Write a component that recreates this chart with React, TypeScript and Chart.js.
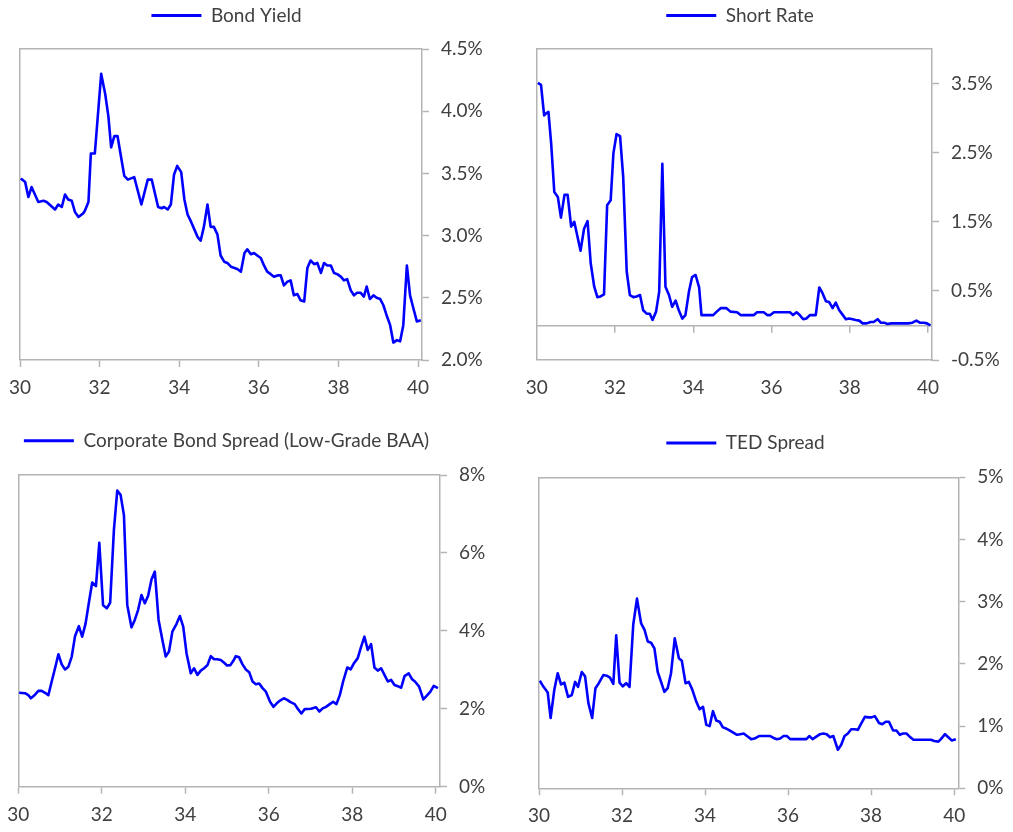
import React, { useEffect, useRef } from 'react';
import { Chart, registerables } from 'chart.js';

Chart.register(...registerables);

const FONT = "Lato, 'Noto Sans', sans-serif";
const TEXT = '#404040';
const AXIS = '#b4b4b4';
const BLUE = '#0000ff';

// ---------- tick labels ----------
const xTicks = [30, 32, 34, 36, 38, 40];
const bondTicks = [2.0, 2.5, 3.0, 3.5, 4.0, 4.5];
const shortTicks = [-0.5, 0.5, 1.5, 2.5, 3.5];
const spreadTicks = [0, 2, 4, 6, 8];
const tedTicks = [0, 1, 2, 3, 4, 5];

// ---------- Bond Yield (%) ----------
const bondYears = [
  30.02, 30.13, 30.21, 30.29, 30.46, 30.59, 30.67, 30.88, 30.96, 31.05, 31.13, 31.21, 31.3, 31.38, 31.47,
  31.59, 31.63, 31.72, 31.78, 31.88, 32.04, 32.14, 32.22, 32.29, 32.37, 32.45, 32.54, 32.62, 32.71, 32.79,
  32.87, 33.05, 33.21, 33.31, 33.47, 33.56, 33.62, 33.71, 33.79, 33.87, 33.95, 34.05, 34.13, 34.21, 34.3,
  34.38, 34.46, 34.54, 34.62, 34.71, 34.79, 34.87, 34.96, 35.04, 35.13, 35.21, 35.3, 35.39, 35.47, 35.55,
  35.64, 35.71, 35.8, 35.88, 35.96, 36.05, 36.13, 36.21, 36.3, 36.38, 36.47, 36.55, 36.63, 36.72, 36.8,
  36.88, 36.97, 37.05, 37.14, 37.22, 37.3, 37.39, 37.47, 37.56, 37.64, 37.72, 37.81, 37.89, 37.97, 38.06,
  38.14, 38.22, 38.31, 38.39, 38.47, 38.56, 38.64, 38.71, 38.79, 38.88, 38.96, 39.05, 39.13, 39.21, 39.3,
  39.38, 39.47, 39.55, 39.63, 39.72, 39.8, 39.88, 39.97, 40.07,
];
const bondYield = [
  3.46, 3.43, 3.31, 3.39, 3.27, 3.28, 3.27, 3.21, 3.25, 3.23, 3.33, 3.29, 3.28, 3.19, 3.15,
  3.18, 3.2, 3.27, 3.66, 3.66, 4.3, 4.14, 3.96, 3.71, 3.8, 3.8, 3.63, 3.48, 3.45, 3.46,
  3.47, 3.25, 3.45, 3.45, 3.23, 3.22, 3.23, 3.21, 3.25, 3.49, 3.56, 3.51, 3.29, 3.17, 3.11,
  3.05, 2.99, 2.96, 3.07, 3.25, 3.07, 3.07, 3.01, 2.84, 2.79, 2.78, 2.75, 2.74, 2.73, 2.71,
  2.86, 2.89, 2.85, 2.86, 2.84, 2.82, 2.76, 2.71, 2.69, 2.67, 2.68, 2.68, 2.6, 2.63, 2.64,
  2.52, 2.53, 2.48, 2.47, 2.74, 2.8, 2.77, 2.78, 2.7, 2.78, 2.76, 2.76, 2.7, 2.69, 2.67,
  2.64, 2.65, 2.56, 2.52, 2.54, 2.54, 2.51, 2.59, 2.49, 2.52, 2.5, 2.49, 2.44, 2.36, 2.28,
  2.14, 2.16, 2.15, 2.28, 2.76, 2.52, 2.42, 2.31, 2.32,
];

// ---------- Short Rate (%) ----------
const shortYears = [
  30.03, 30.11, 30.19, 30.24, 30.3, 30.37, 30.45, 30.54, 30.62, 30.71, 30.79, 30.88, 30.96, 31.12, 31.21,
  31.3, 31.38, 31.47, 31.55, 31.63, 31.72, 31.8, 31.89, 31.96, 32.04, 32.13, 32.21, 32.3, 32.38, 32.47,
  32.55, 32.64, 32.72, 32.81, 32.89, 32.96, 33.05, 33.13, 33.21, 33.29, 33.38, 33.46, 33.55, 33.63, 33.72,
  33.8, 33.89, 33.97, 34.06, 34.15, 34.21, 34.51, 34.6, 34.7, 34.85, 34.95, 35.12, 35.21, 35.55, 35.63,
  35.8, 35.89, 35.97, 36.06, 36.47, 36.55, 36.64, 36.72, 36.81, 36.89, 36.98, 37.13, 37.22, 37.3, 37.39,
  37.47, 37.56, 37.64, 37.73, 37.81, 37.9, 37.98, 38.07, 38.15, 38.24, 38.33, 38.43, 38.53, 38.61, 38.71,
  38.79, 38.88, 38.96, 39.06, 39.49, 39.6, 39.7, 39.79, 39.89, 39.97, 40.06,
];
const shortRate = [
  3.51, 3.48, 3.04, 3.07, 3.09, 2.63, 1.93, 1.86, 1.56, 1.89, 1.89, 1.43, 1.5, 1.08, 1.4,
  1.51, 0.9, 0.56, 0.41, 0.42, 0.45, 1.74, 1.81, 2.49, 2.77, 2.74, 2.15, 0.78, 0.44, 0.41,
  0.42, 0.44, 0.22, 0.17, 0.17, 0.08, 0.2, 0.49, 2.34, 0.56, 0.44, 0.27, 0.36, 0.22, 0.1,
  0.15, 0.49, 0.7, 0.73, 0.55, 0.15, 0.15, 0.2, 0.25, 0.25, 0.2, 0.19, 0.15, 0.15, 0.19,
  0.19, 0.15, 0.15, 0.19, 0.19, 0.15, 0.19, 0.15, 0.09, 0.1, 0.15, 0.15, 0.55, 0.47, 0.35,
  0.34, 0.25, 0.33, 0.22, 0.16, 0.09, 0.1, 0.09, 0.08, 0.07, 0.03, 0.03, 0.05, 0.05, 0.09,
  0.04, 0.04, 0.02, 0.03, 0.03, 0.04, 0.07, 0.04, 0.04, 0.03, 0.0,
];

// ---------- Corporate Bond Spread, Low-Grade BAA (%) ----------
const spreadYears = [
  30.02, 30.16, 30.24, 30.3, 30.38, 30.48, 30.56, 30.64, 30.72, 30.8, 30.88, 30.96, 31.04, 31.12, 31.2,
  31.28, 31.36, 31.45, 31.53, 31.61, 31.69, 31.77, 31.86, 31.94, 32.03, 32.12, 32.2, 32.29, 32.37, 32.45,
  32.53, 32.61, 32.71, 32.79, 32.87, 32.95, 33.03, 33.11, 33.19, 33.27, 33.36, 33.45, 33.53, 33.61, 33.69,
  33.79, 33.87, 33.95, 34.03, 34.13, 34.21, 34.29, 34.37, 34.45, 34.53, 34.61, 34.69, 34.76, 34.85, 34.93,
  35.0, 35.08, 35.15, 35.21, 35.29, 35.37, 35.45, 35.53, 35.61, 35.69, 35.77, 35.85, 35.93, 36.03, 36.11,
  36.19, 36.27, 36.36, 36.44, 36.52, 36.62, 36.7, 36.78, 36.86, 37.01, 37.13, 37.21, 37.29, 37.37, 37.46,
  37.54, 37.62, 37.7, 37.78, 37.88, 37.96, 38.04, 38.13, 38.21, 38.29, 38.37, 38.45, 38.53, 38.61, 38.69,
  38.77, 38.85, 38.93, 39.01, 39.09, 39.17, 39.25, 39.35, 39.43, 39.5, 39.6, 39.7, 39.78, 39.87, 39.95,
  40.05,
];
const corpSpread = [
  2.41, 2.4, 2.35, 2.27, 2.34, 2.46, 2.46, 2.41, 2.35, 2.7, 3.04, 3.4, 3.14, 3.01, 3.08,
  3.34, 3.87, 4.12, 3.85, 4.18, 4.72, 5.24, 5.15, 6.26, 4.66, 4.58, 4.72, 6.59, 7.6, 7.49,
  6.97, 4.66, 4.09, 4.28, 4.54, 4.92, 4.71, 4.9, 5.32, 5.52, 4.28, 3.77, 3.34, 3.47, 3.98,
  4.18, 4.38, 4.11, 3.42, 2.91, 3.04, 2.87, 2.98, 3.04, 3.12, 3.35, 3.27, 3.27, 3.25, 3.18,
  3.11, 3.12, 3.23, 3.35, 3.32, 3.14, 3.01, 2.94, 2.7, 2.63, 2.65, 2.53, 2.44, 2.18, 2.05,
  2.14, 2.21, 2.27, 2.23, 2.17, 2.12, 1.99, 1.88, 1.99, 2.0, 2.04, 1.93, 2.01, 2.05, 2.12,
  2.18, 2.12, 2.35, 2.7, 3.06, 3.01, 3.17, 3.3, 3.59, 3.85, 3.51, 3.66, 3.06, 2.98, 3.04,
  2.87, 2.7, 2.74, 2.61, 2.58, 2.54, 2.84, 2.91, 2.76, 2.7, 2.57, 2.24, 2.33, 2.44, 2.59,
  2.53,
];

// ---------- TED Spread (%) ----------
const tedYears = [
  30.02, 30.1, 30.21, 30.28, 30.37, 30.45, 30.53, 30.61, 30.7, 30.79, 30.87, 30.94, 31.03, 31.11, 31.19,
  31.28, 31.36, 31.44, 31.55, 31.63, 31.71, 31.79, 31.86, 31.94, 32.02, 32.1, 32.18, 32.27, 32.36, 32.46,
  32.54, 32.62, 32.7, 32.78, 32.86, 32.94, 33.02, 33.1, 33.18, 33.27, 33.37, 33.44, 33.53, 33.61, 33.69,
  33.79, 33.87, 33.95, 34.03, 34.11, 34.19, 34.27, 34.35, 34.43, 34.51, 34.59, 34.67, 34.77, 34.85, 34.93,
  35.01, 35.11, 35.19, 35.3, 35.57, 35.65, 35.73, 35.81, 35.89, 35.97, 36.05, 36.44, 36.51, 36.59, 36.68,
  36.77, 36.85, 36.93, 37.01, 37.09, 37.2, 37.28, 37.36, 37.44, 37.52, 37.6, 37.68, 37.77, 37.85, 37.93,
  38.01, 38.09, 38.19, 38.27, 38.35, 38.43, 38.53, 38.61, 38.69, 38.77, 38.85, 38.93, 39.02, 39.44, 39.52,
  39.62, 39.68, 39.78, 39.86, 39.94, 40.04,
];
const tedSpread = [
  1.73, 1.64, 1.54, 1.13, 1.59, 1.85, 1.67, 1.7, 1.47, 1.5, 1.71, 1.63, 1.87, 1.8, 1.37,
  1.13, 1.61, 1.69, 1.82, 1.81, 1.78, 1.68, 2.46, 1.7, 1.64, 1.69, 1.63, 2.63, 3.05, 2.65,
  2.55, 2.36, 2.34, 2.25, 1.87, 1.71, 1.55, 1.61, 1.85, 2.41, 2.09, 2.05, 1.69, 1.71, 1.59,
  1.39, 1.27, 1.31, 1.02, 1.0, 1.24, 1.09, 1.07, 0.98, 0.96, 0.93, 0.9, 0.86, 0.87, 0.88,
  0.84, 0.79, 0.8, 0.84, 0.84, 0.81, 0.79, 0.8, 0.84, 0.84, 0.79, 0.79, 0.84, 0.79, 0.83,
  0.87, 0.88, 0.87, 0.82, 0.84, 0.62, 0.7, 0.84, 0.88, 0.95, 0.95, 0.94, 1.05, 1.15, 1.14,
  1.14, 1.16, 1.05, 1.03, 1.07, 1.07, 0.93, 0.93, 0.86, 0.88, 0.88, 0.83, 0.78, 0.78, 0.76,
  0.75, 0.79, 0.87, 0.82, 0.77, 0.79,
];

// ---------- layout (page pixels) ----------
type Box = { L: number; R: number; T: number; B: number; C: number; mid: number; E: number; Y0: number; H: number };
type Panel = {
  label: string;
  years: number[];
  values: number[];
  yMin: number;
  yMax: number;
  yTicks: number[];
  decimals: number;
  zeroLine: boolean;
  box: Box;
};

const panels: Panel[] = [
  {
    label: 'Bond Yield', years: bondYears, values: bondYield, yMin: 2, yMax: 4.5, yTicks: bondTicks, decimals: 1, zeroLine: false,
    box: { L: 20, R: 422, T: 49, B: 360, C: 226.5, mid: 15.5, E: 495, Y0: 0, H: 410 },
  },
  {
    label: 'Short Rate', years: shortYears, values: shortRate, yMin: -0.5, yMax: 4.0, yTicks: shortTicks, decimals: 1, zeroLine: true,
    box: { L: 536.7, R: 932, T: 49, B: 360, C: 740, mid: 15.5, E: 1011, Y0: 0, H: 410 },
  },
  {
    label: 'Corporate Bond Spread (Low-Grade BAA)', years: spreadYears, values: corpSpread, yMin: 0, yMax: 8, yTicks: spreadTicks, decimals: 0, zeroLine: false,
    box: { L: 18.3, R: 440, T: 475, B: 786.7, C: 226.3, mid: 440.8, E: 495, Y0: 418, H: 414 },
  },
  {
    label: 'TED Spread', years: tedYears, values: tedSpread, yMin: 0, yMax: 5, yTicks: tedTicks, decimals: 0, zeroLine: false,
    box: { L: 539, R: 958.3, T: 477.3, B: 788.3, C: 745.5, mid: 443, E: 1011, Y0: 418, H: 414 },
  },
];

const FS = 19;
const LEGEND_PAD = 4;
const TICK_LEN = 7;
const LINE_W = 1.5;

const framePlugin = {
  id: 'frame',
  beforeDatasetsDraw(chart: any, _args: any, opts: any) {
    const { ctx, chartArea, scales } = chart;
    const { left, top, right, bottom } = chartArea;
    const al = (v: number) => Math.round(v - LINE_W / 2) + LINE_W / 2;
    ctx.save();
    ctx.strokeStyle = AXIS;
    ctx.lineWidth = LINE_W;
    ctx.beginPath();
    ctx.moveTo(al(left), bottom);
    ctx.lineTo(al(left), al(top));
    ctx.lineTo(right, al(top));
    if (opts && opts.zeroLine) {
      const y0 = al(scales.y.getPixelForValue(0));
      ctx.moveTo(left, y0);
      ctx.lineTo(right, y0);
      for (const t of scales.x.ticks) {
        const x = al(scales.x.getPixelForValue(t.value));
        ctx.moveTo(x, y0);
        ctx.lineTo(x, y0 + TICK_LEN);
      }
    }
    ctx.stroke();
    ctx.restore();
  },
};

const legendGapPlugin = {
  id: 'legendGap',
  beforeLayout(chart: any, _args: any, opts: any) {
    const lg = chart.legend;
    if (lg && !lg.__gapPatched) {
      const fit = lg.fit.bind(lg);
      lg.fit = function () {
        fit();
        this.height += (opts && opts.extra) || 0;
      };
      lg.__gapPatched = true;
    }
  },
};

function PanelChart({ panel }: { panel: Panel }) {
  const ref = useRef<HTMLCanvasElement>(null);
  const g = panel.box;
  const X0 = Math.round(2 * g.C - g.E);
  const W = Math.round(g.E - X0);

  useEffect(() => {
    const padT = g.mid - g.Y0 - LEGEND_PAD - FS / 2;
    const extra = g.T - g.Y0 - padT - (FS + LEGEND_PAD + 10);
    const chart = new Chart(ref.current as HTMLCanvasElement, {
      type: 'line',
      data: {
        datasets: [
          {
            label: panel.label,
            data: panel.years.map((t, i) => ({ x: t, y: panel.values[i] })),
            borderColor: BLUE,
            backgroundColor: BLUE,
            borderWidth: 2.6,
            borderJoinStyle: 'round',
            pointRadius: 0,
            pointHoverRadius: 0,
            pointBorderColor: BLUE,
            pointBorderWidth: 3,
            tension: 0,
            fill: false,
            xAxisID: 'x',
            yAxisID: 'y',
          } as any,
        ],
      },
      options: {
        responsive: false,
        animation: false,
        devicePixelRatio: 1,
        events: [],
        layout: { padding: { left: 0, right: 0, top: padT, bottom: 0 } },
        plugins: {
          legend: {
            display: true,
            position: 'top',
            fullSize: true,
            labels: {
              usePointStyle: true,
              pointStyle: 'line',
              pointStyleWidth: 50,
              padding: LEGEND_PAD,
              color: TEXT,
              font: { family: FONT, size: FS },
            },
          },
          tooltip: { enabled: false },
          frame: { zeroLine: panel.zeroLine },
          legendGap: { extra },
        } as any,
        scales: {
          x: {
            type: 'linear',
            position: 'bottom',
            min: 30,
            max: 40.1,
            afterBuildTicks: (s: any) => {
              s.ticks = xTicks.map((v) => ({ value: v }));
            },
            afterFit: (s: any) => {
              s.height = g.Y0 + g.H - g.B;
            },
            grid: {
              drawOnChartArea: false,
              drawTicks: true,
              tickLength: TICK_LEN,
              tickWidth: LINE_W,
              tickColor: panel.zeroLine ? 'rgba(0,0,0,0)' : AXIS,
            },
            border: { display: true, color: AXIS, width: LINE_W },
            ticks: {
              color: TEXT,
              font: { family: FONT, size: FS },
              padding: 9.5,
              maxRotation: 0,
              autoSkip: false,
              callback: (v: any) => String(v),
            },
          },
          y: {
            type: 'linear',
            position: 'right',
            min: panel.yMin,
            max: panel.yMax,
            afterBuildTicks: (s: any) => {
              s.ticks = panel.yTicks.map((v) => ({ value: v }));
            },
            afterFit: (s: any) => {
              s.width = g.E - g.R;
            },
            grid: {
              drawOnChartArea: false,
              drawTicks: true,
              tickLength: TICK_LEN,
              tickWidth: LINE_W,
              tickColor: AXIS,
            },
            border: { display: true, color: AXIS, width: LINE_W },
            ticks: {
              color: TEXT,
              font: { family: FONT, size: FS },
              padding: 12,
              autoSkip: false,
              callback: (v: any) => Number(v).toFixed(panel.decimals) + '%',
            },
          },
          yL: {
            type: 'linear',
            position: 'left',
            min: 0,
            max: 1,
            display: true,
            grid: { display: false },
            border: { display: false },
            ticks: { display: false },
            afterFit: (s: any) => {
              s.width = g.L - X0;
            },
          },
        },
      } as any,
      plugins: [framePlugin, legendGapPlugin],
    });
    return () => chart.destroy();
  }, []);

  return (
    <canvas
      ref={ref}
      width={W}
      height={g.H}
      style={{ position: 'absolute', left: X0, top: g.Y0, width: W, height: g.H, display: 'block' }}
    />
  );
}

export default function App() {
  return (
    <div
      style={{
        position: 'absolute',
        left: 0,
        top: 0,
        width: 1013,
        height: 832,
        overflow: 'hidden',
        background: '#ffffff',
      }}
    >
      {panels.map((p) => (
        <PanelChart key={p.label} panel={p} />
      ))}
    </div>
  );
}
